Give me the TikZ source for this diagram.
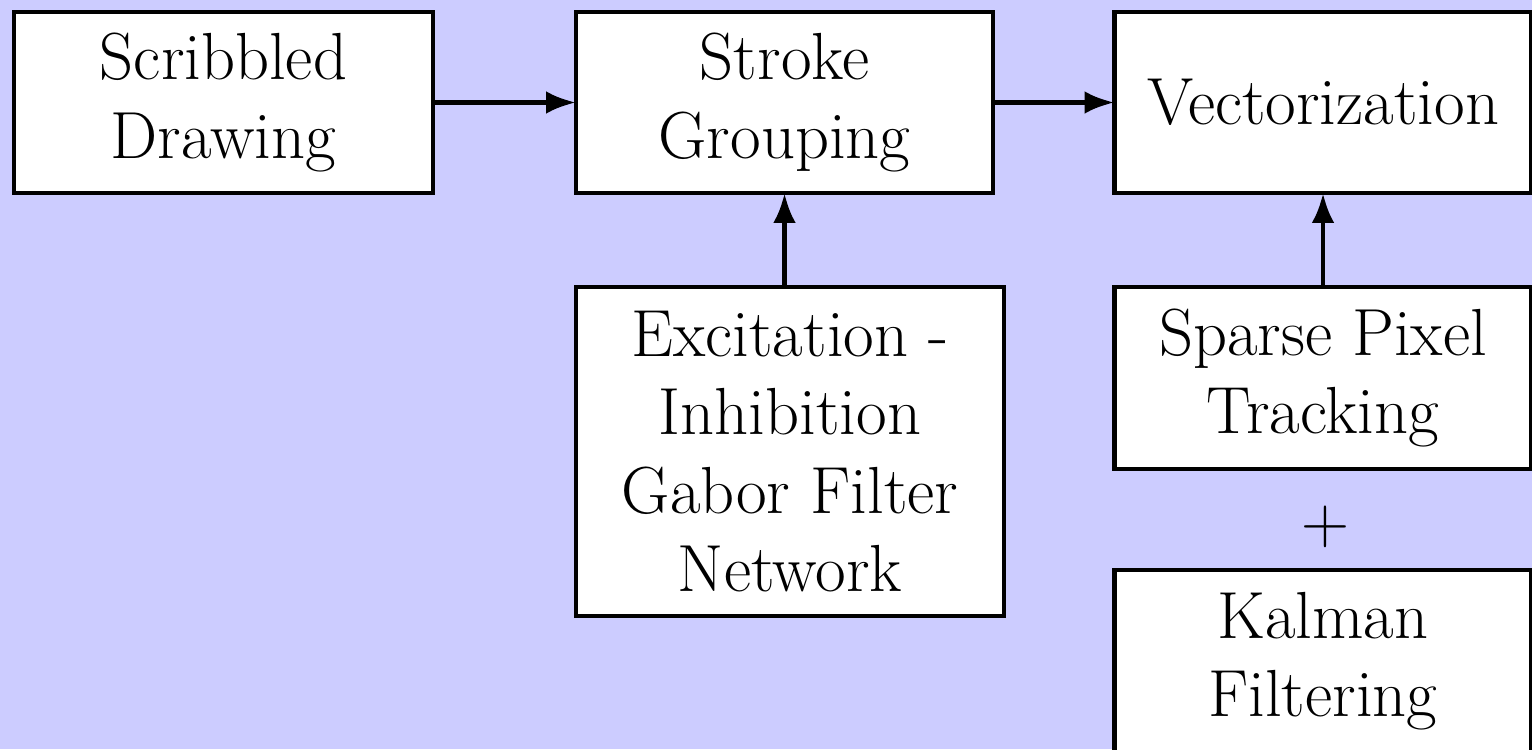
\documentclass[tikz,border=0pt]{standalone}
\usetikzlibrary{arrows.meta}
\definecolor{bgblue}{RGB}{204,204,255}
\newlength{\px}
\setlength{\px}{0.2882pt}
\newcommand{\boxfont}{\fontsize{19.2}{22.6}\selectfont}
\begin{document}
\begin{tikzpicture}[x=0.2882pt, y=-0.2882pt,
  box/.style={draw=black, fill=white, line width=1.4pt, align=center,
    font=\boxfont, inner sep=0pt, outer sep=0pt, minimum width=417\px},
  flow/.style={line width=1.4pt, -{Latex[length=8.6pt, width=6.5pt]}}]
  % background and page size
  \fill[bgblue] (0,0) rectangle (1532,749);
  \useasboundingbox (0,0) rectangle (1532,749);

  % top row
  \node[box, minimum width=419\px, minimum height=181\px] (scrib) at (223.5,102.5) {Scribbled\\Drawing};
  \node[box, minimum height=181\px] (group) at (784.5,102.5) {Stroke\\Grouping};
  \node[box, minimum height=181\px] (vect) at (1323,102.5) {Vectorization};

  % supporting methods
  \node[box, minimum width=428\px, minimum height=329\px] (gabor) at (790,451.5)
    {Excitation -\\Inhibition\\Gabor Filter\\Network};
  \node[box, minimum height=182\px] (sparse) at (1323,378) {Sparse Pixel\\Tracking};
  \node[font=\boxfont] (plus) at (1325,527) {+};
  \node[box, minimum height=182\px] (kalman) at (1323,661) {Kalman\\Filtering};

  % connectors
  \draw[flow] (scrib.east) -- (group.west);
  \draw[flow] (group.east) -- (vect.west);
  \draw[flow] (group.south |- gabor.north) -- (group.south);
  \draw[flow] (vect.south |- sparse.north) -- (vect.south);
\end{tikzpicture}
\end{document}
